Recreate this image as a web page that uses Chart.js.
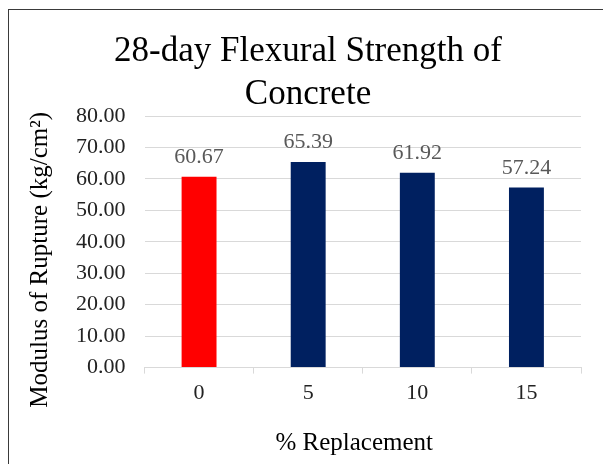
<!DOCTYPE html>
<html>
<head>
<meta charset="utf-8">
<script src="https://cdn.jsdelivr.net/npm/chart.js@4/dist/chart.umd.min.js"></script>
<style>
html, body { margin: 0; padding: 0; background: #fff; }
#wrap { position: relative; width: 603px; height: 464px; overflow: hidden; background: #fff; }
#frame { position: absolute; left: 8px; top: 9px; width: 700px; height: 600px;
  border-left: 1.5px solid #3a3a3a; border-top: 1.5px solid #3a3a3a; }
#c { position: absolute; left: 0; top: 0; }
</style>
</head>
<body>
<div id="wrap"><div id="frame"></div><canvas id="c" width="603" height="464"></canvas></div>
<script>
// ---- data ----
const categories = ['0', '5', '10', '15'];
const strengthValues = [60.67, 65.39, 61.92, 57.24];
const barColors = ['#ff0000', '#002060', '#002060', '#002060'];
const titleLines = ['28-day Flexural Strength of', 'Concrete'];
const yAxisTitle = 'Modulus of Rupture (kg/cm\u00B2)';
const xAxisTitle = '% Replacement';
const yMin = 0, yMax = 80, yStep = 10;

const FONT = "'Liberation Serif', 'Times New Roman', serif";

const textPlugin = {
  id: 'textPlugin',
  afterDatasetsDraw(chart) {
    const ctx = chart.ctx;
    const meta = chart.getDatasetMeta(0);
    ctx.save();
    ctx.font = '22px ' + FONT;
    ctx.fillStyle = '#595959';
    ctx.textAlign = 'center';
    ctx.textBaseline = 'alphabetic';
    meta.data.forEach((bar, i) => {
      const v = chart.data.datasets[0].data[i];
      ctx.fillText(v.toFixed(2), bar.x, bar.y - 14);
    });
    ctx.restore();
  },
  afterDraw(chart) {
    const ctx = chart.ctx;
    const area = chart.chartArea;
    ctx.save();
    ctx.fillStyle = '#000';
    ctx.textAlign = 'center';
    // main title (centred on the chart frame)
    ctx.font = '35px ' + FONT;
    ctx.textBaseline = 'alphabetic';
    ctx.fillText(titleLines[0], 308, 61);
    ctx.fillText(titleLines[1], 308, 104);
    // x axis title
    ctx.font = '25px ' + FONT;
    ctx.textBaseline = 'alphabetic';
    ctx.fillText(xAxisTitle, area.left + (area.right - area.left) / 2 - 8.5, 450);
    // y axis title
    ctx.translate(40, area.top + (area.bottom - area.top) / 2 + 18);
    ctx.rotate(-Math.PI / 2);
    ctx.textBaseline = 'middle';
    ctx.fillText(yAxisTitle, 0, 0);
    ctx.restore();
  }
};

new Chart(document.getElementById('c'), {
  type: 'bar',
  data: {
    labels: categories,
    datasets: [{
      data: strengthValues,
      backgroundColor: barColors,
      borderWidth: 0,
      barPercentage: 0.32,
      categoryPercentage: 1.0
    }]
  },
  options: {
    responsive: false,
    animation: false,
    devicePixelRatio: 1,
    layout: { padding: { left: 57, right: 22, top: 116, bottom: 52 } },
    plugins: {
      legend: { display: false },
      title: { display: false },
      tooltip: { enabled: false }
    },
    scales: {
      x: {
        offset: true,
        grid: { display: true, drawOnChartArea: false, drawTicks: true, tickLength: 6,
                color: '#d9d9d9', offset: true },
        border: { display: true, color: '#d9d9d9', width: 1 },
        ticks: { color: '#222', padding: 6, font: { family: FONT, size: 22 } }
      },
      y: {
        min: yMin, max: yMax,
        grid: { color: '#d9d9d9', drawTicks: false, lineWidth: 1 },
        border: { display: false },
        ticks: { stepSize: yStep, color: '#222', padding: 19,
                 font: { family: FONT, size: 22 },
                 callback: v => Number(v).toFixed(2) }
      }
    }
  },
  plugins: [textPlugin]
});
</script>
</body>
</html>
